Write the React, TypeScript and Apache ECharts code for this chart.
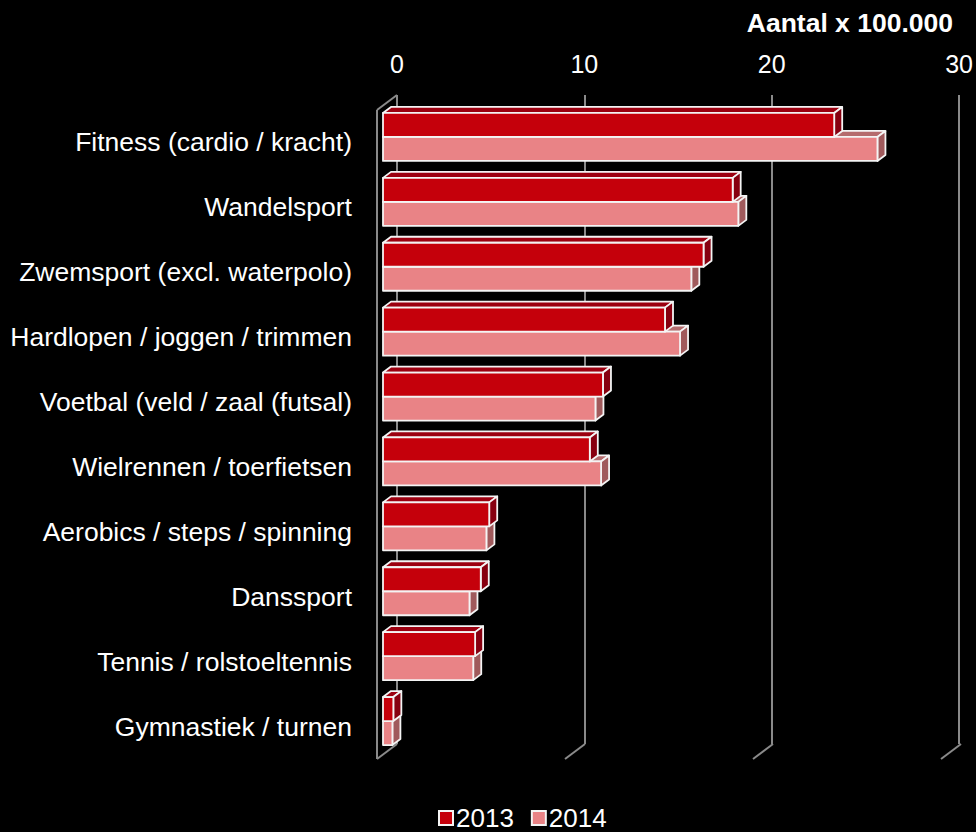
import React, { useEffect, useRef } from "react";
import * as echarts from "echarts";

const categories = [
  "Fitness (cardio / kracht)",
  "Wandelsport",
  "Zwemsport (excl. waterpolo)",
  "Hardlopen / joggen / trimmen",
  "Voetbal (veld / zaal (futsal)",
  "Wielrennen / toerfietsen",
  "Aerobics / steps / spinning",
  "Danssport",
  "Tennis / rolstoeltennis",
  "Gymnastiek / turnen",
];
const values2013 = [24.0, 18.6, 17.05, 15.0, 11.7, 11.0, 5.65, 5.2, 4.9, 0.55];
const values2014 = [26.3, 18.9, 16.4, 15.8, 11.3, 11.6, 5.5, 4.6, 4.8, 0.5];
const xTicks = [0, 10, 20, 30];
const axisTitle = "Aantal x 100.000";

const FONT = "'Liberation Sans', Arial, Helvetica, sans-serif";
const DEPTH_X = 20;
const DEPTH_Y = -15;
const BAR_OFF_X = 6;
const BAR_OFF_Y = -5.5;
const BAR_DX = 8;
const BAR_DY = -6;
const BAR_H = 24;
const EDGE = "#F4F4F4";

type Palette = { front: string; top: string; side: string };
const pal2013: Palette = { front: "#C5000B", top: "#9C0010", side: "#870010" };
const pal2014: Palette = { front: "#E98386", top: "#B56B6D", side: "#A05A5C" };

function makeBarRenderer(p: Palette, upper: boolean) {
  return (params: any, api: any) => {
    const v = api.value(0);
    const idx = api.value(1);
    const c0 = api.coord([0, idx]);
    const c1 = api.coord([v, idx]);
    const xl = c0[0] + BAR_OFF_X;
    const xr = c1[0] + BAR_OFF_X;
    const yc = c0[1] + BAR_OFF_Y;
    const yt = upper ? yc - BAR_H : yc;
    const yb = upper ? yc : yc + BAR_H;
    const stroke = { stroke: EDGE, lineWidth: 1.8, lineJoin: "round" };
    return {
      type: "group",
      children: [
        {
          type: "polygon",
          shape: {
            points: [
              [xl, yt],
              [xr, yt],
              [xr + BAR_DX, yt + BAR_DY],
              [xl + BAR_DX, yt + BAR_DY],
            ],
          },
          style: { fill: p.top, ...stroke },
        },
        {
          type: "polygon",
          shape: {
            points: [
              [xr, yt],
              [xr + BAR_DX, yt + BAR_DY],
              [xr + BAR_DX, yb + BAR_DY],
              [xr, yb],
            ],
          },
          style: { fill: p.side, ...stroke },
        },
        {
          type: "rect",
          shape: { x: xl, y: yt, width: xr - xl, height: yb - yt },
          style: { fill: p.front, ...stroke },
        },
      ],
    };
  };
}

function frameRenderer(params: any, api: any) {
  const v = api.value(0);
  const cs = params.coordSys;
  const x = api.coord([v, 0])[0];
  const bottom = cs.y + cs.height;
  const style = { stroke: "#8A8A8A", lineWidth: 2 };
  const children: any[] = [
    {
      type: "line",
      shape: { x1: x, y1: bottom, x2: x + DEPTH_X, y2: bottom + DEPTH_Y },
      style,
    },
  ];
  if (v === 0) {
    children.push({
      type: "line",
      shape: { x1: x, y1: cs.y, x2: x, y2: bottom },
      style,
    });
    children.push({
      type: "line",
      shape: { x1: x, y1: cs.y, x2: x + DEPTH_X, y2: cs.y + DEPTH_Y },
      style,
    });
  }
  return { type: "group", children };
}

export default function App() {
  const ref = useRef<HTMLDivElement>(null);
  useEffect(() => {
    document.body.style.margin = "0";
    document.body.style.background = "#000";
    if (!ref.current) return;
    const chart = echarts.init(ref.current, null, { renderer: "svg" });
    const data2013 = values2013.map((v, i) => [v, i]);
    const data2014 = values2014.map((v, i) => [v, i]);
    chart.setOption({
      animation: false,
      backgroundColor: "#000",
      textStyle: { fontFamily: FONT },
      title: {
        text: axisTitle,
        right: 23,
        top: 9,
        padding: 0,
        textStyle: { color: "#fff", fontSize: 26.5, fontWeight: "bold", fontFamily: FONT },
      },
      legend: {
        data: ["2013", "2014"],
        left: 438,
        top: 805,
        padding: 0,
        itemWidth: 14,
        itemHeight: 14,
        itemGap: 17,
        icon: "rect",
        textStyle: {
          color: "#fff",
          fontSize: 26,
          lineHeight: 22,
          fontFamily: FONT,
          padding: [0, 0, 0, -2],
        },
        selectedMode: false,
      },
      grid: [
        { left: 397, top: 95, width: 564, height: 649 },
        { left: 377, top: 110, width: 564, height: 649 },
      ],
      xAxis: [
        {
          gridIndex: 0,
          type: "value",
          position: "top",
          min: xTicks[0],
          max: xTicks[xTicks.length - 1],
          interval: 10,
          axisLine: { show: false },
          axisTick: { show: false },
          axisLabel: { color: "#fff", fontSize: 25, margin: 19, fontFamily: FONT },
          splitLine: { show: true, lineStyle: { color: "#8A8A8A", width: 2 } },
        },
        {
          gridIndex: 1,
          type: "value",
          min: xTicks[0],
          max: xTicks[xTicks.length - 1],
          interval: 10,
          show: false,
          splitLine: { show: false },
        },
      ],
      yAxis: [
        { gridIndex: 0, type: "value", show: false, splitLine: { show: false } },
        {
          gridIndex: 1,
          type: "category",
          inverse: true,
          data: categories,
          axisLine: { show: false },
          axisTick: { show: false },
          axisLabel: { color: "#fff", fontSize: 26.5, margin: 25, fontFamily: FONT },
          splitLine: { show: false },
        },
      ],
      series: [
        {
          type: "custom",
          name: "frame",
          xAxisIndex: 1,
          yAxisIndex: 1,
          silent: true,
          renderItem: frameRenderer,
          data: xTicks.map((t) => [t, 0]),
          encode: { x: 0, y: 1 },
        },
        {
          type: "custom",
          name: "2014",
          xAxisIndex: 1,
          yAxisIndex: 1,
          renderItem: makeBarRenderer(pal2014, false),
          itemStyle: { color: pal2014.front, borderColor: EDGE, borderWidth: 1.5 },
          data: data2014,
          encode: { x: 0, y: 1 },
        },
        {
          type: "custom",
          name: "2013",
          xAxisIndex: 1,
          yAxisIndex: 1,
          renderItem: makeBarRenderer(pal2013, true),
          itemStyle: { color: pal2013.front, borderColor: EDGE, borderWidth: 1.5 },
          data: data2013,
          encode: { x: 0, y: 1 },
        },
      ],
    });
    return () => chart.dispose();
  }, []);
  return (
    <div
      ref={ref}
      style={{ position: "fixed", left: 0, top: 0, width: 976, height: 832, background: "#000" }}
    />
  );
}
